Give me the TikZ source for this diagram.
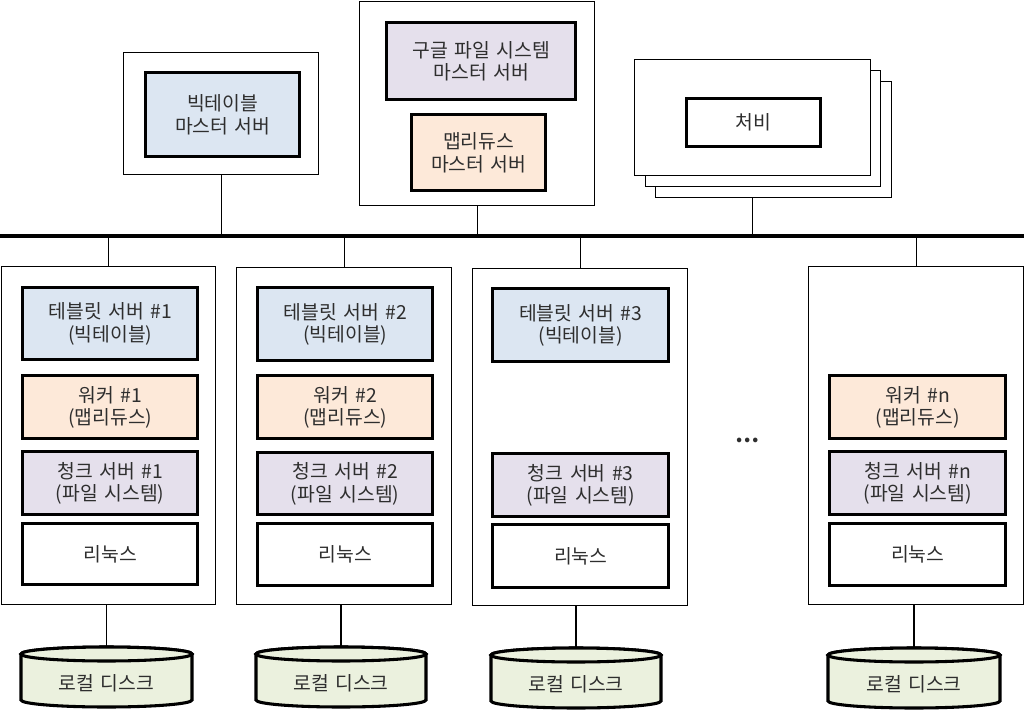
\documentclass[tikz,border=0pt]{standalone}
\usepackage{fontspec}
\setmainfont{Noto Sans CJK KR}[WordSpace=1.5]
\definecolor{cblue}{HTML}{DCE6F2}
\definecolor{cpeach}{HTML}{FDE9D9}
\definecolor{clav}{HTML}{E5E0EC}
\definecolor{cgreen}{HTML}{EBF1DE}
\newcommand\bx[7]{\node[#6, anchor=north west, minimum width={(#4-#2)*0.75pt}, minimum height={(#5-#3)*0.75pt}] (#1) at (#2,#3) {#7};}
\newcommand\dsk[5]{%
  \filldraw[diskline] (#2,#3+7) -- (#2,#4-7) arc[start angle=180,end angle=0,x radius={(#5-#2)/2},y radius=7] -- (#5,#3+7) arc[start angle=0,end angle=-180,x radius={(#5-#2)/2},y radius=7] -- cycle;
  \draw[diskline] ({(#2+#5)/2},#3+7) ellipse[x radius={(#5-#2)/2},y radius=7];
  \coordinate (#1top) at ({(#2+#5)/2},#3);
  \node[txt] (#1) at ({(#2+#5)/2},{(#3+#4)/2+6}) {로컬 디스크};}
\tikzset{
  txt/.style={font=\fontsize{14.5pt}{17pt}\selectfont, align=center, inner sep=0pt, text=black!82},
  outer/.style={draw, line width=1.1pt, fill=white, inner sep=0pt},
  inner/.style={txt, draw, line width=2.6pt},
  wire/.style={line width=0.9pt},
  diskline/.style={line width=2.3pt, fill=cgreen},
}
\begin{document}
\begin{tikzpicture}[x=0.75pt,y=-0.75pt]
\useasboundingbox (0,0) rectangle (1024,710);
% bus
\coordinate (busL) at (0,236);
\coordinate (busR) at (1024,236);
\draw[line width=2.4pt] (busL) -- (busR);
% bigtable master
\bx{btO}{123}{52}{318}{174}{outer}{}
\bx{btI}{144}{71}{298}{155}{inner,fill=cblue}{빅테이블\\마스터 서버}
% gfs master
\bx{gfsO}{359}{1}{594}{205}{outer}{}
\bx{gfsI}{385}{21}{574}{98}{inner,fill=clav}{구글 파일 시스템\\마스터 서버}
\bx{mrI}{410}{113}{544}{189}{inner,fill=cpeach}{맵리듀스\\마스터 서버}
% chubby
\bx{ch3}{655}{81}{891}{197}{outer}{}
\bx{ch2}{645}{70}{880}{186}{outer}{}
\bx{ch1}{634}{59}{870}{175}{outer}{}
\bx{chI}{685}{97}{819}{145}{inner,fill=white}{처비}
\draw[wire] (btO.south) -- (btO.south |- busL);
\draw[wire] (gfsO.south) -- (gfsO.south |- busL);
\draw[wire] (ch1.south |- ch3.south) -- (ch1.south |- busL);
% column 1
\bx{c1}{1}{266}{215}{604}{outer}{}
\bx{t1}{21}{286}{196}{358}{inner,fill=cblue}{테블릿 서버 \#1\\(빅테이블)}
\bx{w1}{21}{374}{196}{437}{inner,fill=cpeach}{워커 \#1\\(맵리듀스)}
\bx{k1}{21}{450}{196}{513}{inner,fill=clav}{청크 서버 \#1\\(파일 시스템)}
\bx{l1}{21}{522}{196}{583}{inner,fill=white}{리눅스}
\dsk{d1}{21}{647}{707}{192}
% column 2
\bx{c2}{236}{267}{451}{604}{outer}{}
\bx{t2}{256}{286}{431}{359}{inner,fill=cblue}{테블릿 서버 \#2\\(빅테이블)}
\bx{w2}{256}{374}{431}{437}{inner,fill=cpeach}{워커 \#2\\(맵리듀스)}
\bx{k2}{256}{451}{431}{513}{inner,fill=clav}{청크 서버 \#2\\(파일 시스템)}
\bx{l2}{256}{522}{431}{584}{inner,fill=white}{리눅스}
\dsk{d2}{256}{647}{707}{426}
% column 3
\bx{c3}{472}{268}{687}{605}{outer}{}
\bx{t3}{491}{287}{667}{360}{inner,fill=cblue}{테블릿 서버 \#3\\(빅테이블)}
\bx{k3}{491}{452}{667}{515}{inner,fill=clav}{청크 서버 \#3\\(파일 시스템)}
\bx{l3}{491}{523}{667}{586}{inner,fill=white}{리눅스}
\dsk{d3}{491}{648}{708}{661}
% column n
\bx{cn}{808}{266}{1023}{604}{outer}{}
\bx{wn}{828}{374}{1004}{437}{inner,fill=cpeach}{워커 \#n\\(맵리듀스)}
\bx{kn}{828}{450}{1004}{513}{inner,fill=clav}{청크 서버 \#n\\(파일 시스템)}
\bx{ln}{828}{522}{1004}{584}{inner,fill=white}{리눅스}
\dsk{dn}{828}{648}{708}{1000}
% dots
\node[txt, font=\fontsize{16pt}{17pt}\selectfont\bfseries] (dots) at (747,440) {…};
% connectors
\foreach \c/\d in {c1/d1,c2/d2,c3/d3,cn/dn}{
  \draw[wire] (\c.north) -- (\c.north |- busL);
  \draw[wire] (\c.south -| \d top) -- (\d top);
}
\end{tikzpicture}
\end{document}
